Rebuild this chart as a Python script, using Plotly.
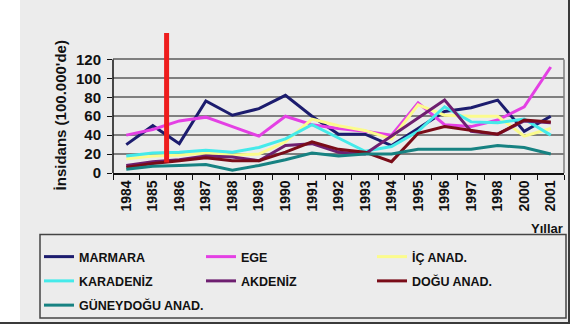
import plotly.graph_objects as go

years = ["1984", "1985", "1986", "1987", "1988", "1989", "1990", "1991", "1992",
         "1993", "1994", "1995", "1996", "1997", "1998", "2000", "2001"]

marmara = [30, 50, 31, 76, 61, 68, 82, 60, 41, 41, 29, 47, 65, 69, 77, 44, 60]
ege = [40, 46, 55, 59, 49, 39, 60, 51, 47, 44, 40, 74, 51, 49, 56, 70, 112]
ic_anad = [15, 18, 19, 21, 19, 20, 33, 57, 50, 45, 36, 72, 61, 60, 60, 39, 47]
karadeniz = [18, 21, 22, 24, 22, 27, 36, 51, 37, 23, 28, 44, 70, 54, 53, 57, 40]
akdeniz = [8, 12, 14, 18, 17, 13, 29, 31, 22, 20, 39, 58, 77, 44, 41, 55, 53]
dogu_anad = [6, 10, 13, 16, 13, 13, 22, 33, 25, 22, 12, 42, 49, 45, 41, 56, 54]
guneydogu = [4, 7, 8, 9, 3, 8, 14, 21, 18, 20, 20, 25, 25, 25, 29, 27, 20]

y_ticks = [0, 20, 40, 60, 80, 100, 120]

series = [
    ("MARMARA", marmara, "#1c1c6e", "legend"),
    ("EGE", ege, "#e440e4", "legend2"),
    ("İÇ ANAD.", ic_anad, "#fbfb8c", "legend3"),
    ("KARADENİZ", karadeniz, "#45eaea", "legend"),
    ("AKDENİZ", akdeniz, "#6e1f70", "legend2"),
    ("DOĞU ANAD.", dogu_anad, "#7a0c18", "legend3"),
    ("GÜNEYDOĞU ANAD.", guneydogu, "#178282", "legend"),
]

FONT = "Liberation Sans, Arial, sans-serif"
W, H = 588, 330
L, R, T, B = 113, 24, 31, 156
pw, ph = W - L - R, H - T - B


def px(x):
    return (x - L) / pw


def py(y):
    return (H - B - y) / ph


fig = go.Figure()
for name, vals, color, leg in series:
    fig.add_trace(go.Scatter(
        x=years, y=vals, name=name, mode="lines",
        line=dict(color=color, width=3),
        legend=leg, legendgroup=name,
    ))

shapes = [
    # chart area fill
    dict(type="rect", xref="paper", yref="paper", x0=px(20), x1=px(569),
         y0=py(325), y1=py(-3), fillcolor="#ececec",
         line=dict(width=0), layer="below"),
    # chart area border: only right and bottom edges fall inside the page
    dict(type="rect", xref="paper", yref="paper", x0=px(-100), x1=px(569),
         y0=py(325), y1=py(-100), line=dict(color="#3a3a3a", width=2), layer="below"),
    # plot frame
    dict(type="line", xref="x domain", yref="y", x0=1, x1=1, y0=0, y1=120,
         line=dict(color="#7f7f7f", width=1.5)),
    dict(type="line", xref="x domain", yref="y", x0=0, x1=0, y0=0, y1=120,
         line=dict(color="#111", width=1.5)),
    # legend box
    dict(type="rect", xref="paper", yref="paper", x0=px(40), x1=px(566),
         y0=py(320), y1=py(236), line=dict(color="#444", width=1.5)),
    # red marker line
    dict(type="line", xref="x", yref="y", x0=1.52, x1=1.52, y0=11, y1=148,
         line=dict(color="#ee1d1d", width=5)),
]

legend_common = dict(
    font=dict(family=FONT, size=12.5, color="#111", weight="bold"),
    bgcolor="rgba(0,0,0,0)", tracegroupgap=5, xanchor="left", yanchor="top",
    traceorder="grouped",
)

fig.update_layout(
    width=W, height=H,
    margin=dict(l=L, r=R, t=T, b=B),
    paper_bgcolor="white", plot_bgcolor="rgba(0,0,0,0)",
    font=dict(family=FONT, color="#111"),
    shapes=shapes,
    legend=dict(x=px(39), y=py(242), **legend_common),
    legend2=dict(x=px(201), y=py(242), **legend_common),
    legend3=dict(x=px(372), y=py(242), **legend_common),
    xaxis=dict(
        type="category", range=[-0.5, len(years) - 0.5],
        showgrid=False, showline=True, linecolor="#111", linewidth=1.5,
        ticks="outside", tickson="boundaries", ticklen=5, tickcolor="#111",
        tickangle=-90, tickfont=dict(family=FONT, size=14, color="#111", weight="bold"),
    ),
    yaxis=dict(
        range=[0, 150], tickvals=y_ticks, showgrid=True, gridcolor="#7f7f7f",
        gridwidth=1.5, zeroline=False, showline=False,
        ticks="outside", ticklen=5, tickcolor="#111", ticklabelstandoff=3,
        tickfont=dict(family=FONT, size=15, color="#111", weight="bold"),
    ),
    annotations=[
        dict(text="İnsidans (100.000'de)", xref="paper", yref="paper",
             x=px(60), y=py(116), textangle=-90, showarrow=False,
             xanchor="center", yanchor="middle",
             font=dict(family=FONT, size=15, color="#111", weight="bold")),
        dict(text="Yıllar", xref="paper", yref="paper", x=px(565), y=py(230),
             xanchor="right", yanchor="middle", showarrow=False,
             font=dict(family=FONT, size=13, color="#111", weight="bold")),
    ],
)

fig.write_html("out.html")
